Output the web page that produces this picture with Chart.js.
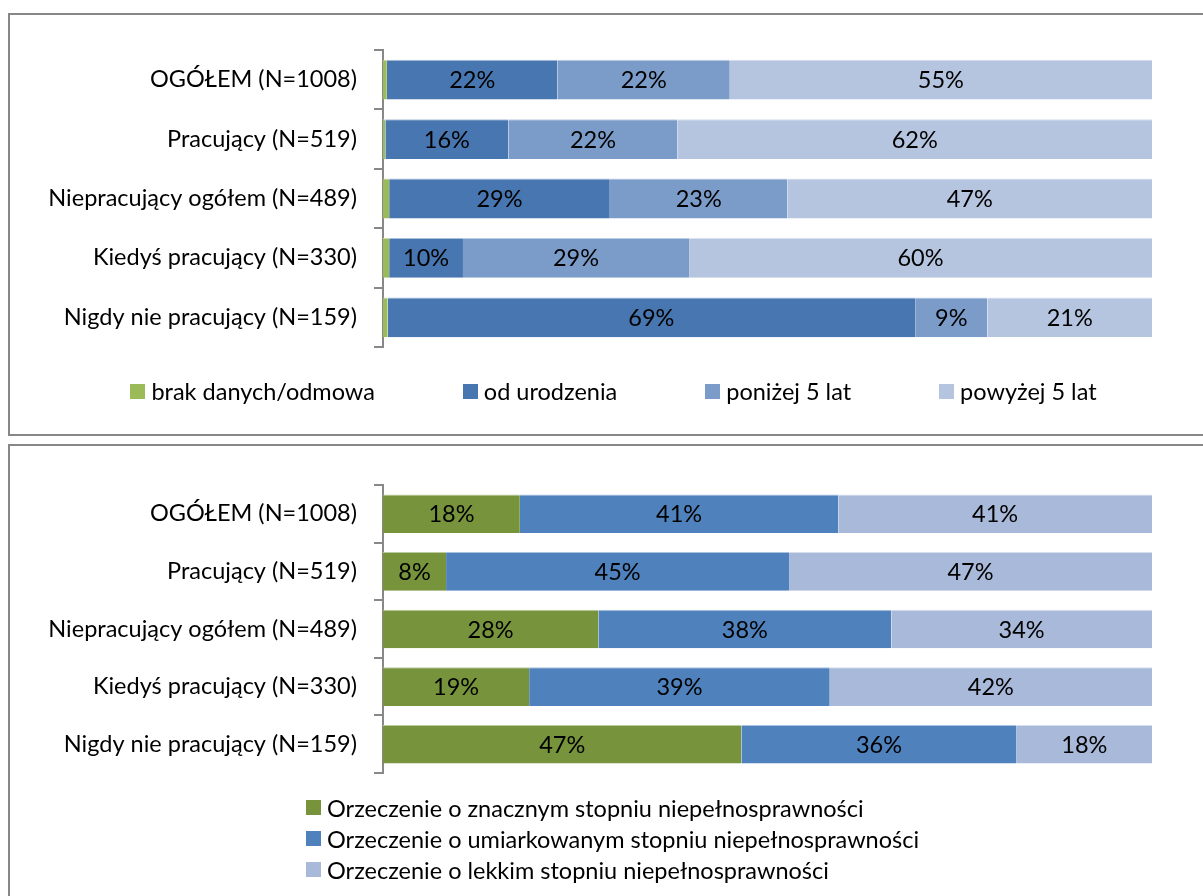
<!DOCTYPE html>
<html lang="pl">
<head>
<meta charset="utf-8">
<title>Niepełnosprawność – struktura</title>
<script src="https://cdn.jsdelivr.net/npm/chart.js"></script>
<style>
  body { margin: 0; background: #fff; font-family: Lato, "Open Sans", sans-serif; }
  .panel { position: absolute; left: 8px; width: 1220px; border: 2px solid #878787; }
  #panelTop { top: 13px; height: 419px; }
  #panelBottom { top: 444px; height: 460px; }
  .panel canvas { position: absolute; left: 0; top: 0; }
  .legend { position: absolute; font-size: 23.5px; line-height: 28px; color: #000; }
  .legend .item { display: flex; align-items: center; white-space: nowrap; }
  .legend .box { display: inline-block; width: 15px; height: 15px; margin-right: 6px; }
  #legendTop { top: 362px; left: 0; width: 1207px; display: flex; justify-content: center; gap: 88px; }
  #legendBottom { top: 346px; left: 296px; }
  #legendBottom .item { height: 31px; }
</style>
</head>
<body>
<div class="panel" id="panelTop">
  <canvas id="chartTop" width="1193" height="419"></canvas>
  <div class="legend" id="legendTop"></div>
</div>
<div class="panel" id="panelBottom">
  <canvas id="chartBottom" width="1193" height="450"></canvas>
  <div class="legend" id="legendBottom"></div>
</div>
<script>
// row labels shared by both charts
const categories = [
  'OGÓŁEM (N=1008)',
  'Pracujący (N=519)',
  'Niepracujący ogółem (N=489)',
  'Kiedyś pracujący (N=330)',
  'Nigdy nie pracujący (N=159)'
];

// upper chart: since when (%)
const brakDanych = [0.5, 0.3, 0.8, 0.8, 0.6];
const odUrodzenia = [22.2, 16.0, 28.7, 9.6, 68.6];
const ponizej5Lat = [22.4, 22.0, 23.1, 29.4, 9.4];
const powyzej5Lat = [54.9, 61.7, 47.4, 60.2, 21.4];

// lower chart: degree of disability (%)
const stopienZnaczny = [17.8, 8.2, 28.0, 19.0, 46.6];
const stopienUmiarkowany = [41.4, 44.6, 38.1, 39.1, 35.8];
const stopienLekki = [40.8, 47.2, 33.9, 41.9, 17.6];

const FONT = { family: 'Lato', size: 23.5 };

// percentage text in the middle of each segment
const valueLabels = {
  id: 'valueLabels',
  afterDatasetsDraw(chart) {
    const ctx = chart.ctx;
    ctx.save();
    ctx.font = FONT.size + 'px ' + FONT.family;
    ctx.fillStyle = '#000';
    ctx.textAlign = 'center';
    ctx.textBaseline = 'middle';
    chart.data.datasets.forEach((ds, i) => {
      if (ds.hideValues) return;
      chart.getDatasetMeta(i).data.forEach((bar, j) => {
        ctx.fillText(Math.round(ds.data[j]) + '%', (bar.x + bar.base) / 2, bar.y + 1);
      });
    });
    ctx.restore();
  }
};

function series(label, data, color, edge, extra) {
  return Object.assign({
    label, data,
    backgroundColor: color,
    borderColor: edge,
    borderWidth: { top: 1, right: 0, bottom: 0, left: 0 },
    borderSkipped: false,
    barPercentage: 0.67,
    categoryPercentage: 1
  }, extra || {});
}

function makeChart(id, datasets, padding) {
  return new Chart(document.getElementById(id), {
    type: 'bar',
    data: { labels: categories, datasets },
    options: {
      indexAxis: 'y',
      responsive: false,
      animation: false,
      layout: { padding },
      plugins: { legend: { display: false }, tooltip: { enabled: false } },
      scales: {
        x: { stacked: true, min: 0, max: 100, display: false },
        y: {
          stacked: true,
          grid: { drawOnChartArea: false, offset: true, tickLength: 9, color: '#888', lineWidth: 2 },
          border: { display: true, color: '#888', width: 2 },
          ticks: { color: '#000', font: FONT, padding: 17 },
          afterFit(scale) { scale.width = 373; }
        }
      }
    },
    plugins: [valueLabels]
  });
}

function buildLegend(chart, el) {
  chart.data.datasets.forEach(ds => {
    const item = document.createElement('div');
    item.className = 'item';
    const box = document.createElement('span');
    box.className = 'box';
    box.style.background = ds.backgroundColor;
    const txt = document.createElement('span');
    txt.textContent = ds.label;
    item.append(box, txt);
    el.append(item);
  });
}

const chartTop = makeChart('chartTop', [
  series('brak danych/odmowa', brakDanych, '#9BBB59', '#C9DAA6', { hideValues: true }),
  series('od urodzenia', odUrodzenia, '#4876B0', '#A9BFDB'),
  series('poniżej 5 lat', ponizej5Lat, '#7B9CC9', '#BCCDE4'),
  series('powyżej 5 lat', powyzej5Lat, '#B5C4DF', '#D9E1EF')
], { top: 35, bottom: 87, right: 51 });

const chartBottom = makeChart('chartBottom', [
  series('Orzeczenie o znacznym stopniu niepełnosprawności', stopienZnaczny, '#77933C', '#BACB9E'),
  series('Orzeczenie o umiarkowanym stopniu niepełnosprawności', stopienUmiarkowany, '#4F81BD', '#A9C0DE'),
  series('Orzeczenie o lekkim stopniu niepełnosprawności', stopienLekki, '#A9B9D9', '#D6DEEE')
], { top: 39, bottom: 123, right: 51 });

buildLegend(chartTop, document.getElementById('legendTop'));
buildLegend(chartBottom, document.getElementById('legendBottom'));
</script>
</body>
</html>
